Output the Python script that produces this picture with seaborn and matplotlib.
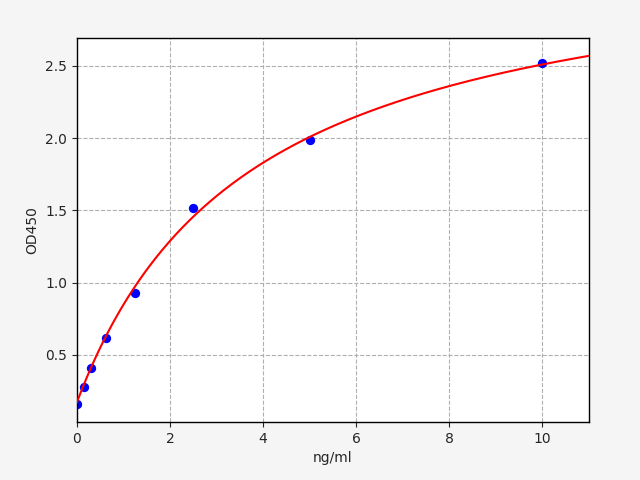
import numpy as np
import pandas as pd
import matplotlib
matplotlib.use("Agg")
import matplotlib.pyplot as plt
import seaborn as sns

# standard points
conc = [0, 0.156, 0.3125, 0.625, 1.25, 2.5, 5, 10]
od450 = [0.16, 0.28, 0.41, 0.62, 0.93, 1.52, 1.99, 2.52]

# fitted curve parameters (4PL)
fit_a = 0.17
fit_b = 1.0
fit_c = 3.76
fit_d = 3.39

df = pd.DataFrame({"conc": conc, "od": od450})
xs = np.linspace(0, 11, 300)
curve = pd.DataFrame({"conc": xs, "od": fit_d + (fit_a - fit_d) / (1 + (xs / fit_c) ** fit_b)})

sns.set_style("white")
plt.rcParams['font.family'] = ['DejaVu Sans']
fig = plt.figure(figsize=(6.4, 4.8), dpi=100, facecolor='#f5f5f5')
ax = fig.add_subplot(111)
fig.subplots_adjust(left=0.12, right=0.92, top=0.921, bottom=0.121)

sns.scatterplot(data=df, x="conc", y="od", color='blue', s=45, edgecolor='blue', linewidth=0, ax=ax, zorder=2)
sns.lineplot(data=curve, x="conc", y="od", color='red', linewidth=1.5, ax=ax, zorder=3)

ax.set_xlim(0, 11)
ax.set_ylim(0.036, 2.694)
ax.set_xticks([0, 2, 4, 6, 8, 10])
ax.set_yticks([0.5, 1.0, 1.5, 2.0, 2.5])
ax.set_xlabel('ng/ml')
ax.set_ylabel('OD450')
ax.grid(True, linestyle='--', color='#b0b0b0', linewidth=0.8)
for s in ax.spines.values():
    s.set_color('black')
    s.set_linewidth(1)
ax.tick_params(axis='both', which='major', length=3.5, width=0.8, direction='out', bottom=True, left=True, labelsize=10)

plt.savefig('out.png', dpi=100, facecolor=fig.get_facecolor())
